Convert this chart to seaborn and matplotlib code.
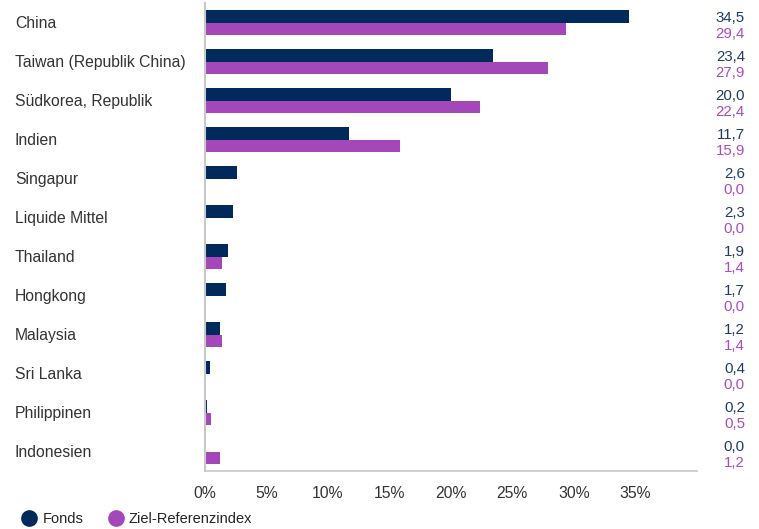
import pandas as pd
import matplotlib.pyplot as plt
import matplotlib.transforms as mtrans
from matplotlib.lines import Line2D
import seaborn as sns

# Daten
laender = ['China', 'Taiwan (Republik China)', 'Südkorea, Republik', 'Indien',
           'Singapur', 'Liquide Mittel', 'Thailand', 'Hongkong', 'Malaysia',
           'Sri Lanka', 'Philippinen', 'Indonesien']
fonds = [34.5, 23.4, 20.0, 11.7, 2.6, 2.3, 1.9, 1.7, 1.2, 0.4, 0.2, 0.0]
index_ref = [29.4, 27.9, 22.4, 15.9, 0.0, 0.0, 1.4, 0.0, 1.4, 0.0, 0.5, 1.2]
serien = ['Fonds', 'Ziel-Referenzindex']

navy = '#00295c'
lila = '#a447b8'
navy_txt = '#1f3a68'
lila_txt = '#a94bc2'

df = pd.DataFrame({
    'Land': laender * 2,
    'Wert': fonds + index_ref,
    'Serie': [serien[0]] * len(laender) + [serien[1]] * len(laender),
})

sns.set_style('white')
plt.rcParams['font.family'] = ['Liberation Sans', 'DejaVu Sans']

fig = plt.figure(figsize=(7.59, 5.29), dpi=100)
ax = fig.add_axes([0.270, 0.1096, 0.648, 0.8844])

sns.barplot(data=df, x='Wert', y='Land', hue='Serie', orient='h',
            palette=[navy, lila], width=0.65, saturation=1, linewidth=0,
            dodge=True, ax=ax, legend=False)

ax.set_xlim(0, 40)
ax.set_ylim(len(laender) - 0.5, -0.5)
ax.set_xticks([0, 5, 10, 15, 20, 25, 30, 35])
ax.set_xticklabels([f'{t}%' for t in range(0, 40, 5)], fontsize=11.3, color='#333333')
ax.tick_params(axis='x', length=0, pad=11)
ax.set_yticks([i - 0.5 for i in range(len(laender) + 1)])
ax.set_yticklabels([])
ax.tick_params(axis='y', length=12, width=1.2, color='#cdd8e8')
ax.set_xlabel('')
ax.set_ylabel('')
for s in ['top', 'right']:
    ax.spines[s].set_visible(False)
ax.spines['left'].set_color('#c8c8c8')
ax.spines['left'].set_linewidth(1.5)
ax.spines['bottom'].set_color('#c8c8c8')
ax.spines['bottom'].set_linewidth(1.2)

# Kategorien links und Werte rechts
trans = mtrans.blended_transform_factory(fig.transFigure, ax.transData)
for i, land in enumerate(laender):
    ax.text(15 / 759, i + 0.03, land, transform=trans, fontsize=11.3, color='#333333',
            va='center', ha='left')
    ax.text(745 / 759, i - 0.12, f'{fonds[i]:.1f}'.replace('.', ','), transform=trans,
            fontsize=10.8, color=navy_txt, va='center', ha='right')
    ax.text(745 / 759, i + 0.30, f'{index_ref[i]:.1f}'.replace('.', ','), transform=trans,
            fontsize=10.8, color=lila_txt, va='center', ha='right')

handles = [Line2D([], [], marker='o', ls='', markersize=11, color=navy),
           Line2D([], [], marker='o', ls='', markersize=11, color=lila)]
fig.legend(handles, serien, loc='lower left', bbox_to_anchor=(0.01, -0.02),
           ncol=2, frameon=False, fontsize=10.5, handletextpad=0.3,
           columnspacing=1.6, handlelength=1.2)

fig.savefig('out.png', dpi=100)
